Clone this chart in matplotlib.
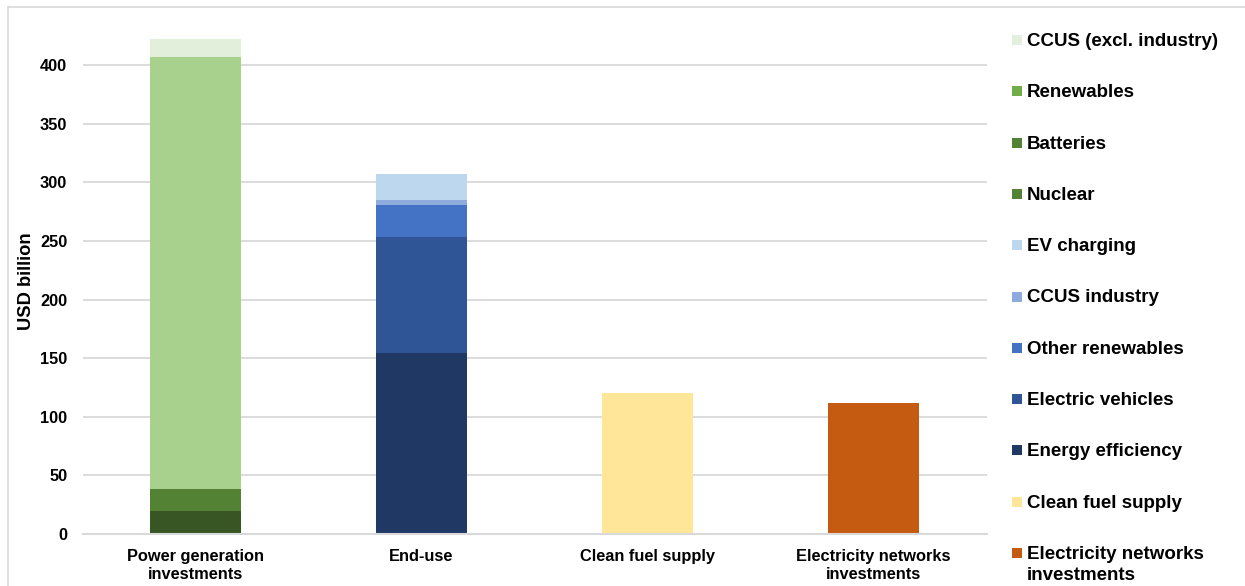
import matplotlib
matplotlib.use("Agg")
import matplotlib.pyplot as plt
from matplotlib.patches import Rectangle
from matplotlib.lines import Line2D

plt.rcParams['font.family'] = ['Liberation Sans', 'DejaVu Sans']
plt.rcParams['font.weight'] = 'bold'

categories = ["Power generation\ninvestments", "End-use", "Clean fuel supply",
              "Electricity networks\ninvestments"]

# Stacked segments, bottom to top, with values per category (USD billion)
series_names = ["Nuclear", "Batteries", "Renewables", "CCUS (excl. industry)",
                "Energy efficiency", "Electric vehicles", "Other renewables",
                "CCUS industry", "EV charging", "Clean fuel supply",
                "Electricity networks\ninvestments"]
series_values = [
    [20, 0, 0, 0],
    [18, 0, 0, 0],
    [369, 0, 0, 0],
    [15, 0, 0, 0],
    [0, 154, 0, 0],
    [0, 99, 0, 0],
    [0, 28, 0, 0],
    [0, 4, 0, 0],
    [0, 22, 0, 0],
    [0, 0, 120, 0],
    [0, 0, 0, 112],
]
bar_colors = ["#375623", "#548235", "#A9D18E", "#E2EFDA",
              "#203864", "#2F5597", "#4472C4", "#8FAADC", "#BDD7EE",
              "#FFE699", "#C55A11"]

# Legend entries, top to bottom
legend_names = ["CCUS (excl. industry)", "Renewables", "Batteries", "Nuclear",
                "EV charging", "CCUS industry", "Other renewables",
                "Electric vehicles", "Energy efficiency", "Clean fuel supply",
                "Electricity networks\ninvestments"]
legend_colors = ["#E2EFDA", "#70AD47", "#548235", "#548235",
                 "#BDD7EE", "#8FAADC", "#4472C4", "#2F5597", "#203864",
                 "#FFE699", "#C55A11"]

W, H = 1245, 586
fig = plt.figure(figsize=(W / 100, H / 100), dpi=100)
ax = fig.add_axes([82.5 / W, (H - 534) / H, (986.5 - 82.5) / W, (534 - 6.4) / H])

x = list(range(len(categories)))
bottom = [0.0] * len(categories)
for vals, col in zip(series_values, bar_colors):
    ax.bar(x, vals, width=0.4, bottom=bottom, color=col, linewidth=0, zorder=3)
    bottom = [b + v for b, v in zip(bottom, vals)]

ax.set_xlim(-0.5, len(categories) - 0.5)
ax.set_ylim(0, 450)
ax.set_yticks(range(0, 401, 50))
ax.yaxis.grid(True, color="#D9D9D9", linewidth=1.3, zorder=0)
ax.set_axisbelow(True)
for s in ["top", "right", "left"]:
    ax.spines[s].set_visible(False)
ax.spines["bottom"].set_color("#D9D9D9")
ax.spines["bottom"].set_linewidth(1.5)
ax.spines["bottom"].set_zorder(4)
ax.set_xticks(x)
ax.set_xticklabels(categories, fontsize=11.8, fontweight="bold", linespacing=1.2)
ax.tick_params(axis="x", length=0, pad=11)
ax.tick_params(axis="y", length=0, pad=11, labelsize=11.8)
for t in ax.get_yticklabels():
    t.set_fontweight("bold")
ax.set_ylabel("USD billion", fontsize=13.2, fontweight="bold")
ax.yaxis.set_label_coords((35.5 - 82.5) / 904, (534 - 281) / 527.6)

# Legend drawn as a column of swatches and labels
line_step = 21
for i, (name, col) in enumerate(zip(legend_names, legend_colors)):
    yc = 40 + i * 51.3
    fig.add_artist(Rectangle((1012 / W, 1 - (yc + 5) / H), 10 / W, 10 / H,
                             transform=fig.transFigure, color=col, linewidth=0))
    lines = name.split("\n")
    for k, line in enumerate(lines):
        fig.text(1027 / W, 1 - (yc + 6 + k * line_step) / H, line, fontsize=13.5,
                 fontweight="bold", va="baseline", ha="left")

# Outer frame
fig.add_artist(Line2D([8 / W, 8 / W], [0, 1 - 7 / H], transform=fig.transFigure,
                      color="#D9D9D9", linewidth=1.2))
fig.add_artist(Line2D([8 / W, 1], [1 - 7 / H, 1 - 7 / H], transform=fig.transFigure,
                      color="#D9D9D9", linewidth=1.2))

fig.savefig("out.png", dpi=100)
